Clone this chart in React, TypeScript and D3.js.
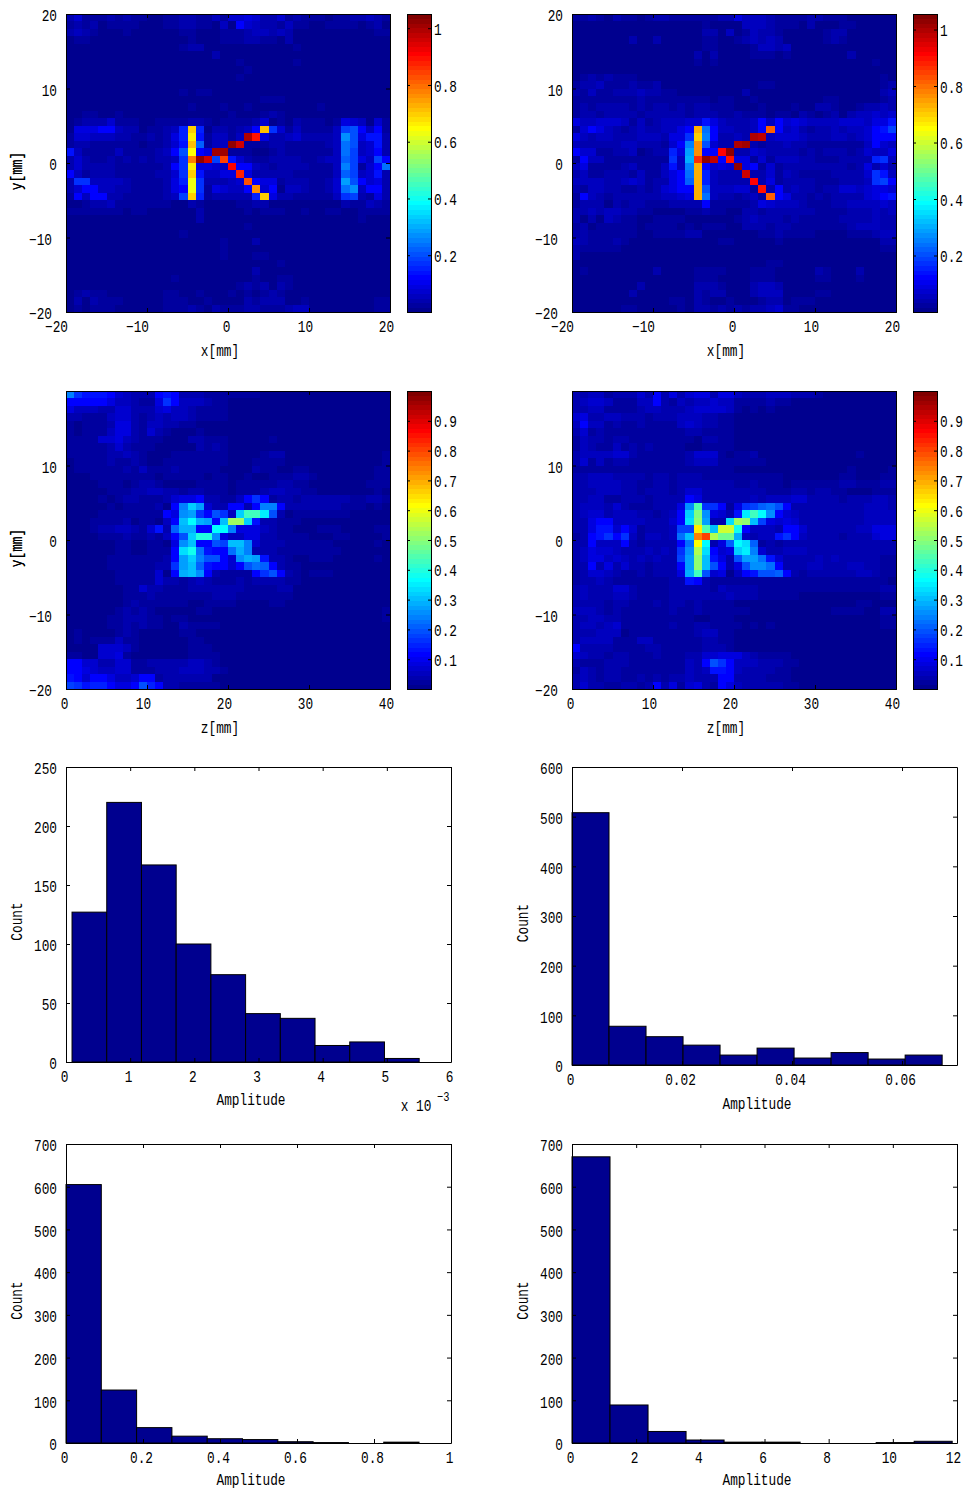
import React, { useRef, useEffect } from "react";
import * as d3 from "d3";

// each row is one line of the map, top to bottom, each char = index in the 64 level colormap
// groups of 10 cells, trailing zeros left out
const levelChars = "0123456789abcdefghijklmnopqrstuvwxyzABCDEFGHIJKLMNOPQRSTUVWXYZ+*";
// the dark blues were read one step too bright by eye
const darkBlues: Record<string, number> = { "1": 0, "2": 1, "3": 2, "4": 3, "5": 4, "6": 5 };

const xyAbove = [
  "3522232322 1122332242 5565335232 2212233432",
  "2323122221 1122332214 1754332422 1122221231",
  "3432111211 1111221112 2234434311 1111111122",
  "1221110000 0000121112 2233221300 1111100011",
  "0100000000 0000233111 1111011120 0111000000",
  "1000000000 0000001131 0000001011 1",
  "0000000000 0000000011 0200000020",
  "0000000000 0000000001 002",
  "0000000000 0000000000 02",
  "",
  "0000000000 00002 022",
  "0000000000 0000000000 0000222",
  "1000000000 0001020012 0120000000 0201",
  "1122112100 0000111111 2111232110 0000000011",
  "1233352221 1222233212 2223512132 2212654152",
  "1666774331 22349G9133 2347Ha5242 2224bc7472",
  "2554443322 32369E8244 24YS633453 3334gc6883",
  "2332222221 22358Hd244 +W22233222 2234ec4583",
  "8422224222 2347cD76ZZ 2221123222 2224eb4573",
  "3532232323 2334aL+WbP 8532233332 2344db64b7",
  "3533332222 2237aE6654 T774323333 2224fb257e",
  "7423332222 2335aG8446 6R63333322 2224db4583",
  "3aa4444322 22369Ca333 45O7662333 2235hc7563",
  "3577443322 22367Ca265 447K571443 2235eg4773",
  "2747733222 2234bG9233 3339G63322 2224ab3263",
  "1023342222 2221132111 1223311111 1111322432",
  "2222222122 1111113111 1121222112 1122112222",
  "1111100000 0001113000 1111111100 0000112100",
  "1000000000 0000001000 0020001",
  "0110000000 00002",
  "0000000000 0000000002 0003",
  "0000000000 0000000002",
  "0000000000 0000000002 00022",
  "0000000000 0000000000 0000002",
  "0000000000 0000000000 00031",
  "0000000000 0002101000 0002012200",
  "1000000000 0011011010 0232313210",
  "1232200000 0022012100 2121232100",
  "1313222111 1122211211 1132333112 1111111122",
  "1212221111 1122232132 2233222344 1111111122",
];

const xyBelow = [
  "2232132212 3322222233 6444322223 3222111111",
  "1111111111 1111112111 1444322213 1112211111",
  "1111111111 1111113314 1243321111 1233100011",
  "1111111311 3100002200 2343431111 02321",
  "0000000000 0000002200 0024434100",
  "0000000000 0000030300 0022212000 00003",
  "0000000000 0000021211 1111111000 00000002",
  "1110000000 0000000000 01",
  "1232322211 1000000100 1111111000 0000000021",
  "2334222322 3100001000 0012211000 0000000023",
  "3242233343 3220001010 0300001000 0000000034",
  "2222222232 2222222122 1121111111 1221111123",
  "2323333232 3323233222 1112111211 3321123343",
  "2332333323 3333233322 3222122132 1231344545",
  "6445554242 3444558643 3347475654 4445554668",
  "2576432343 34467Ie744 3347N74532 334344578b",
  "6434433344 4366aGf733 43YX455543 3344345777",
  "4333334433 3257fKc533 YZ32334332 2222224754",
  "7552233412 3396hK77T+ 3354333323 2333235446",
  "2744222222 22a4iQ+X7S 6625244433 22233339a4",
  "4622223422 2484fI7565 +672523333 3333236353",
  "3422333242 2467eI9433 3W33524322 2233335a84",
  "4444334542 3367dI9433 33T3623333 2223334ab7",
  "3244332232 35677Ic444 552S373433 2335545665",
  "2743233333 34456Ie433 2342N76332 3233335678",
  "2333132332 2233337222 2236544432 2233444454",
  "3343443322 1111223221 1332333333 2222333434",
  "3131432211 2222111101 2343332322 2223333433",
  "2312222212 2221212221 1333233222 2222344433",
  "3322222211 2222331111 1112232222 1111222344",
  "4322232111 1111111122 1111121111 1111111133",
  "3222221111 1111111111 0000011111 1100000022",
  "3111000000 0000000000 0000111111 0000000011",
  "1010000000 1100000000 0000220000 1",
  "1200000000 3000022220 0022200010 3200030000",
  "0000000000 0000022211 1122200000 2200020000",
  "0000000030 0001133320 0034430000 01",
  "0000000300 0000132330 1134440011 2200010000",
  "0000001100 0022132112 1112331222 11001",
  "0000012211 1012033232 3233452211 11001",
];

const zyAbove = [
  "fa88875433 3787333222 2222110000",
  "7777764432 26a7444322 1",
  "6444335533 3564432222 11",
  "3322245532 3434432222 111",
  "2122236632 4433221111 11",
  "2122246632 5321112111 11",
  "2222556432 2211133222 1111120000",
  "2222235322 2111113232 1",
  "2222233432 1112222222 1111233000 0000000002",
  "1222232232 1122222222 1112222100 0000000002",
  "1222222324 2223222221 1113221122 1000000122",
  "1112222222 2122222122 1121122233 2000001122",
  "1111222123 3211112222 1222223322 1111111222",
  "1111122233 4433233222 1222344332 2111111121",
  "1111212332 2235667332 247a723323 3333322332",
  "1111121222 2317fkh533 7737ff7333 3333222121",
  "1111222222 2276gha7ca 4krrmc3122 2222211111",
  "1112222312 2147jnih7j xxk8332221 1111111111",
  "1112334432 583dii77nn f666432211 1222111122",
  "1111222322 3247ckppg6 4466332222 1112211112",
  "1111112211 2216gj77cb jjf5333222 2221111121",
  "1111112211 2227loe877 eif3332222 2222111111",
  "1111122222 2237hkfcc7 5gih833211 2221111121",
  "1111122222 233ahjd877 57ced73221 1111111111",
  "1111112222 2507ijg732 2227ac7321 2221111111",
  "0000112222 2533234322 2323333221 1111111011",
  "0000111225 3322233333 3322223311 111111",
  "0000111222 3222222233 3222222211 1111",
  "0000001232 2222211222 2111122110",
  "0000002323 2111112211 0000001110 0000000102",
  "1111122333 2212211111 0000000011 1000000002",
  "1111122323 2211322221 0000000011",
  "1211112321 1111221111",
  "1212224221 1111122111",
  "1111555421 1011122210",
  "2211556211 1111122221",
  "7755335522 3333344321",
  "7765445522 2333444332",
  "8757764457 7233333311 11",
  "ba8997667c 9733222221 111",
];

const zyBelow = [
  "3344233353 7363566366 4333444333 2111110000",
  "3455422244 7324344544 2222322111 11",
  "3344222234 4333455554 2121211111",
  "5633443332 3334443322 1111111111",
  "4744232232 2224543322 1111110000",
  "3523222222 2222332222 1111110000",
  "2433233222 2222213322 1111110000",
  "2432242323 2222112222 11",
  "3444455322 2222355521 2231110000 0000020000",
  "3524233222 2222344422 2222111000",
  "2222222222 2222222222 1111111000 0000211012",
  "3344433332 3323332222 2222221111 1112211122",
  "3344443322 3323333333 2232221222 2223322233",
  "3334443323 3323553333 3333222332 3322111222",
  "3344223332 3333763333 3343444553 3332333443",
  "3444353222 3336gsaa72 6abdec7333 3333334443",
  "3455344433 2347kvg653 8mrng75433 3333334444",
  "3367744443 3357lwh33l xwjb656533 3333334444",
  "3368857523 334bbEsjAA o744437753 3333344666",
  "2378a7a424 434ejLPyuu i43448a743 3332333566",
  "3374447323 3337eDn36d nld2323333 3333333333",
  "3465543334 343agyl756 kmf5334443 3333333333",
  "3466454343 433bhwj863 chhe853333 4343333322",
  "3373635332 3337hwjc73 6cgge73334 4333443322",
  "2355432232 3336irc561 478ccd7323 3333344322",
  "2334322222 2233873222 2222222222 2222222221",
  "3433355322 2233333243 3332222222 2222222233",
  "3433344322 2233333334 3332222211 1111111122",
  "3333233222 3233232222 1111111111 1111122111",
  "4443232222 2232232222 2211111100 0022221133",
  "3344332222 2222211222 1111111000 0000000022",
  "3443452222 2232233222 2121211000 0000000022",
  "3334441222 2222234422 11",
  "3444422244 2222223322 11",
  "7333322223 3222223332 1111111111",
  "5433233222 3222335566 6432222111",
  "3222333222 2222437ca7 4443332211",
  "2432332222 2222434887 4333322111",
  "3432332232 3233433377 3333222111",
  "3533223323 7362563276 4333332211",
];

// histogram counts
const countsA = [127, 220, 167, 100, 74, 41, 37, 14, 17, 3];
const countsB = [508, 78, 57, 40, 20, 34, 14, 25, 12, 20];
const countsC = [605, 124, 36, 16, 10, 8, 3, 1, 0, 2];
const countsD = [670, 89, 27, 7, 2, 2, 0, 0, 1, 4];

const jet = d3
  .scaleLinear<string>()
  .domain([0, 7, 23, 39, 55, 63])
  .range(["#00008f", "#0000ff", "#00ffff", "#ffff00", "#ff0000", "#800000"]);
const jetColors = d3.range(64).map((i) => d3.rgb(jet(i)).formatHex());

const FONT = "'Liberation Mono', 'DejaVu Sans Mono', monospace";
const SQUEEZE = 0.8; // narrow the mono font to about 7.7px per char

const fmt = (v: number) => String(v).replace("-", "\u2212");

const readLevel = (ch: string) => (ch in darkBlues ? darkBlues[ch] : levelChars.indexOf(ch));

const styleText = (sel: any, size = 16) =>
  sel.attr("font-family", FONT).attr("font-size", size).attr("fill", "#000").attr("stroke", "none");

// tick text sits in the tick group, so x and dx have to be widened before scaling
const styleTicks = (sel: any, dx: any, dy: string) => {
  sel.each(function (this: SVGTextElement, d: any) {
    const t = d3.select(this);
    const shift = typeof dx === "function" ? dx(d) : dx;
    t.attr("x", Number(t.attr("x") || 0) / SQUEEZE).attr("dx", shift / SQUEEZE);
  });
  styleText(sel.attr("dy", dy).attr("transform", `scale(${SQUEEZE},1)`));
};

const label = (svg: any, x: number, y: number, text: string, rotate = false) => {
  const t = svg
    .append("text")
    .attr("text-anchor", "middle")
    .attr("dominant-baseline", "central")
    .attr("transform", `translate(${x},${y})${rotate ? " rotate(-90)" : ""} scale(${SQUEEZE},1)`)
    .text(text);
  styleText(t);
  return t;
};

// box with inward ticks on all four sides, labels only bottom and left
const drawAxes = (svg: any, x: any, y: any, xTicks: number[], yTicks: number[]) => {
  const [x0, x1] = x.range();
  const [y1, y0] = y.range();
  const xLab = (d: any) => (d < 0 ? -10 : String(d).length === 2 ? -4 : -2);
  const yLab = (d: any) => (d < 0 ? -5 : 0);

  const bottom = svg
    .append("g")
    .attr("transform", `translate(0,${y1})`)
    .call(d3.axisBottom(x).tickValues(xTicks).tickSizeOuter(0).tickSizeInner(-4).tickPadding(8).tickFormat(fmt as any));
  styleTicks(bottom.selectAll(".tick text"), xLab, "0.75em");

  const left = svg
    .append("g")
    .attr("transform", `translate(${x0},0)`)
    .call(d3.axisLeft(y).tickValues(yTicks).tickSizeOuter(0).tickSizeInner(-4).tickPadding(9).tickFormat(fmt as any));
  styleTicks(left.selectAll(".tick text"), yLab, "0.42em");

  svg
    .append("g")
    .attr("transform", `translate(0,${y0})`)
    .call(d3.axisTop(x).tickValues(xTicks).tickSizeOuter(0).tickSizeInner(-4).tickFormat(() => ""));
  svg
    .append("g")
    .attr("transform", `translate(${x1},0)`)
    .call(d3.axisRight(y).tickValues(yTicks).tickSizeOuter(0).tickSizeInner(-4).tickFormat(() => ""));
};

const drawMap = (svg: any, o: any) => {
  const { rows, left, top, xDomain, cMax, cTicks, xTicks, yTicks, xName } = o;
  const x = d3.scaleLinear().domain(xDomain).range([left, left + 324]);
  const y = d3.scaleLinear().domain([-20, 20]).range([top + 298, top]);
  const c = d3.scaleQuantize<string>().domain([0, cMax]).range(jetColors);
  const colEdges = d3.range(xDomain[0], xDomain[1] + 1);
  const rowEdges = d3.range(20, -21, -1);

  const cells = (rows as string[]).flatMap((row, r) =>
    row
      .replace(/ /g, "")
      .padEnd(40, "0")
      .split("")
      .map((ch, i) => ({ r, i, value: ((readLevel(ch) + 0.5) / 64) * cMax }))
  );
  svg
    .append("g")
    .attr("shape-rendering", "crispEdges")
    .selectAll("rect")
    .data(cells)
    .join("rect")
    .attr("x", (d: any) => x(colEdges[d.i]))
    .attr("y", (d: any) => y(rowEdges[d.r]))
    .attr("width", (d: any) => x(colEdges[d.i + 1]) - x(colEdges[d.i]) + 0.5)
    .attr("height", (d: any) => y(rowEdges[d.r + 1]) - y(rowEdges[d.r]) + 0.5)
    .attr("fill", (d: any) => c(d.value));
  drawAxes(svg, x, y, xTicks, yTicks);

  // colorbar
  const barLeft = left + 341;
  const cy = d3.scaleLinear().domain([0, cMax]).range([top + 298, top]);
  svg
    .append("g")
    .attr("shape-rendering", "crispEdges")
    .selectAll("rect")
    .data(jetColors)
    .join("rect")
    .attr("x", barLeft)
    .attr("width", 24)
    .attr("y", (_: any, i: number) => cy(((i + 1) / 64) * cMax))
    .attr("height", (cy(0) - cy(cMax)) / 64 + 0.5)
    .attr("fill", (d: any) => d);
  const barRight = svg
    .append("g")
    .attr("transform", `translate(${barLeft + 24},0)`)
    .call(d3.axisRight(cy).tickValues(cTicks).tickSizeOuter(0).tickSizeInner(-3).tickPadding(6).tickFormat(fmt as any));
  styleTicks(barRight.selectAll(".tick text"), -3, "0.38em");
  svg
    .append("g")
    .attr("transform", `translate(${barLeft},0)`)
    .call(d3.axisLeft(cy).tickValues(cTicks).tickSizeOuter(0).tickSizeInner(-3).tickFormat(() => ""));
  svg
    .append("rect")
    .attr("x", barLeft + 0.5)
    .attr("y", top + 0.5)
    .attr("width", 24)
    .attr("height", 298)
    .attr("fill", "none")
    .attr("stroke", "#000");

  label(svg, left + 154, top + 338, xName);
  label(svg, 18, top + 157, "y[mm]", true);
};

const drawHist = (svg: any, o: any) => {
  const { counts, left, top, bottom, xDomain, yMax, start, step, xTicks, yTicks } = o;
  const x = d3.scaleLinear().domain(xDomain).range([left, left + 385]);
  const y = d3.scaleLinear().domain([0, yMax]).range([bottom, top]);
  svg
    .append("g")
    .selectAll("rect")
    .data(counts)
    .join("rect")
    .attr("x", (_: any, i: number) => x(start + i * step))
    .attr("y", (d: any) => y(d))
    .attr("width", x(step) - x(0))
    .attr("height", (d: any) => y(0) - y(d))
    .attr("fill", "#00008f")
    .attr("stroke", "#000");
  drawAxes(svg, x, y, xTicks, yTicks);
  label(svg, left + o.nameDx, o.nameY, "Amplitude");
  label(svg, left - 48, (top + bottom) / 2 + 7, "Count", true);
};

const mapA = { xDomain: [-20, 20], xTicks: [-20, -10, 0, 10, 20], yTicks: [-20, -10, 0, 10, 20], xName: "x[mm]" };
const mapB = { xDomain: [0, 40], xTicks: [0, 10, 20, 30, 40], yTicks: [-20, -10, 0, 10], xName: "z[mm]" };
const tenths = [0.1, 0.2, 0.3, 0.4, 0.5, 0.6, 0.7, 0.8, 0.9];
const fifths = [0.2, 0.4, 0.6, 0.8, 1];

const App = () => {
  const svgRef = useRef<SVGSVGElement>(null);

  useEffect(() => {
    d3.select(svgRef.current).selectAll("*").remove();
    const svg = d3.select(svgRef.current);

    drawMap(svg, { ...mapA, rows: xyAbove, left: 66, top: 14, cMax: 1.05, cTicks: fifths });
    drawMap(svg, { ...mapA, rows: xyBelow, left: 572, top: 14, cMax: 1.055, cTicks: fifths });
    drawMap(svg, { ...mapB, rows: zyAbove, left: 66, top: 391, cMax: 1.0, cTicks: tenths });
    drawMap(svg, { ...mapB, rows: zyBelow, left: 572, top: 391, cMax: 1.0, cTicks: tenths });

    drawHist(svg, {
      counts: countsA, left: 66, top: 767, bottom: 1062, xDomain: [0, 6], yMax: 250,
      start: 0.094, step: 0.541, xTicks: [0, 1, 2, 3, 4, 5, 6], yTicks: [0, 50, 100, 150, 200, 250],
      nameDx: 185, nameY: 1101,
    });
    drawHist(svg, {
      counts: countsB, left: 572, top: 767, bottom: 1065, xDomain: [0, 0.07], yMax: 600,
      start: 0, step: 0.00673, xTicks: [0, 0.02, 0.04, 0.06], yTicks: [0, 100, 200, 300, 400, 500, 600],
      nameDx: 185, nameY: 1105,
    });
    drawHist(svg, {
      counts: countsC, left: 66, top: 1144, bottom: 1443, xDomain: [0, 1], yMax: 700,
      start: 0, step: 0.0917, xTicks: [0, 0.2, 0.4, 0.6, 0.8, 1], yTicks: [0, 100, 200, 300, 400, 500, 600, 700],
      nameDx: 185, nameY: 1481,
    });
    drawHist(svg, {
      counts: countsD, left: 572, top: 1144, bottom: 1443, xDomain: [0, 12], yMax: 700,
      start: 0, step: 1.185, xTicks: [0, 2, 4, 6, 8, 10, 12], yTicks: [0, 100, 200, 300, 400, 500, 600, 700],
      nameDx: 185, nameY: 1481,
    });

    // exponent of the first histogram
    label(svg, 416, 1107, "x 10");
    styleText(
      svg
        .append("text")
        .attr("transform", `translate(437,1101) scale(${SQUEEZE},1)`)
        .text("\u22123"),
      13
    );
  }, []);

  return <svg ref={svgRef} width={964} height={1490} style={{ position: "absolute", left: 0, top: 0, background: "#fff" }} />;
};

export default App;
